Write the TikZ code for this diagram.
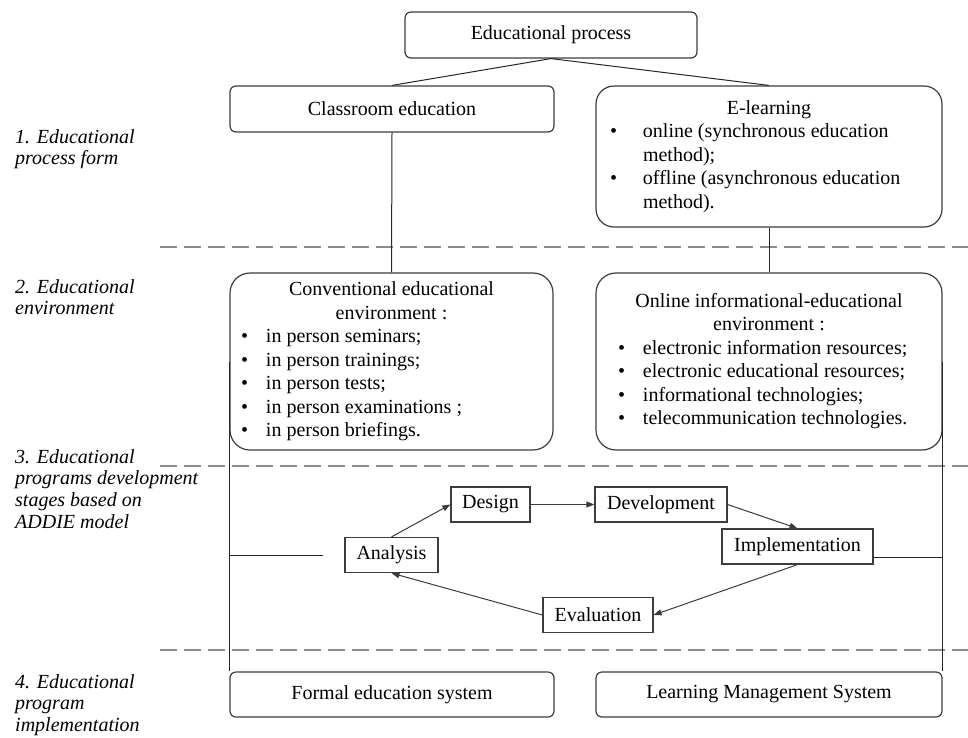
\documentclass[tikz,border=0pt]{standalone}
\usepackage{fontspec}
\setmainfont{Liberation Serif}
\usetikzlibrary{positioning,arrows.meta}
\definecolor{cLine}{HTML}{3C3C3C}
\definecolor{cDash}{HTML}{8C8C8C}
\tikzset{
  blk/.style={draw=cLine, line width=1.2pt, rounded corners=6pt,
              align=center, inner sep=0pt},
  blkR/.style={blk, rounded corners=20pt},
  stage/.style={draw=cLine, line width=1.2pt, inner sep=0pt, minimum height=35pt},
  ar/.style={-{Triangle[length=8pt,width=6pt]}, line width=1pt, cLine},
  ln/.style={line width=1pt, black!85},
  divider/.style={cDash, line width=2pt, dash pattern=on 17pt off 7pt},
  tag/.style={font={\fontsize{20}{21.7}\selectfont\itshape}, align=left,
              anchor=north west, inner sep=0pt}
}

\begin{document}
\begin{tikzpicture}[x=1pt, y=-1pt, font={\fontsize{20}{23.5}\selectfont}]
\useasboundingbox (0,0) rectangle (968,737);

% level separators
\draw[divider] (160,247) -- (968,247);
\draw[divider] (160,465.5) -- (968,465.5);
\draw[divider] (160,650) -- (968,650);

% row labels
\node[tag] (t1) at (15,129) {1. Educational\\process form};
\node[tag] (t2) at (15,279) {2. Educational\\environment};
\node[tag] (t3) at (15,449) {3. Educational\\programs development\\stages based on\\ADDIE model};
\node[tag] (t4) at (15,674) {4. Educational\\program\\implementation};

% level 1
\node[blk, minimum width=292pt, minimum height=46pt] (proc) at (551,35) {Educational process};
\node[blk, minimum width=324pt, minimum height=46pt] (class) at (392,109) {Classroom education};
\node[blkR, rounded corners=18pt, minimum width=346pt, minimum height=141pt] (elearn) at (769,156.5)
  {\begin{tabular}{@{}p{33pt}@{}p{285pt}@{}}
   \multicolumn{2}{c}{E-learning}\\
   \textbullet & online (synchronous education\\
               & method);\\
   \textbullet & offline (asynchronous education\\
               & method).
   \end{tabular}};

% level 2
\node[blkR, minimum width=323pt, minimum height=177pt] (conv) at (391.5,361.5)
  {\begin{tabular}{@{}p{25pt}@{}p{276pt}@{}}
   \multicolumn{2}{c}{Conventional educational}\\
   \multicolumn{2}{c}{environment :}\\
   \textbullet & in person seminars;\\
   \textbullet & in person trainings;\\
   \textbullet & in person tests;\\
   \textbullet & in person examinations ;\\
   \textbullet & in person briefings.
   \end{tabular}};
\node[blkR, minimum width=346pt, minimum height=177pt] (online) at (769,361.5)
  {\begin{tabular}{@{}p{25pt}@{}p{277pt}@{}}
   \multicolumn{2}{c}{Online informational-educational}\\
   \multicolumn{2}{c}{environment :}\\
   \textbullet & electronic information resources;\\
   \textbullet & electronic educational resources;\\
   \textbullet & informational technologies;\\
   \textbullet & telecommunication technologies.
   \end{tabular}};

% level 3: ADDIE
\node[stage, minimum width=93pt] (ana) at (391.5,555) {Analysis};
\node[stage, minimum width=79pt] (des) at (490.5,504.5) {Design};
\node[stage, minimum width=132pt] (dev) at (661,504.5) {Development};
\node[stage, minimum width=151pt] (impl) at (797.5,546.5) {Implementation};
\node[stage, minimum width=110pt] (eval) at (598,615) {Evaluation};

% level 4
\node[blk, minimum width=324pt, minimum height=45pt] (formal) at (392,694.5) {Formal education system};
\node[blk, minimum width=346pt, minimum height=45pt] (lms) at (769,694.5) {Learning Management System};

% connectors
\draw[ln] (proc.south) -- (class.north);
\draw[ln] (proc.south) -- (elearn.north);
\draw[ln] (class.south) -- (conv.north);
\draw[ln] (elearn.south) -- (online.north);
\draw[ln] (conv.west) -- (conv.west |- formal.north);
\draw[ln] (online.east) -- (online.east |- lms.north);
\coordinate (aL) at (323,555);
\coordinate (iR) at (942,557);
\draw[ln] (aL -| conv.west) -- (aL);
\draw[ln] (iR -| impl.east) -- (iR);

\draw[ar] (ana.north) -- (des.west);
\draw[ar] (des.east) -- (dev.west);
\draw[ar] (dev.east) -- (impl.north);
\draw[ar] (impl.south) -- (eval.east);
\draw[ar] (eval.west) -- (ana.south);
\end{tikzpicture}
\end{document}
